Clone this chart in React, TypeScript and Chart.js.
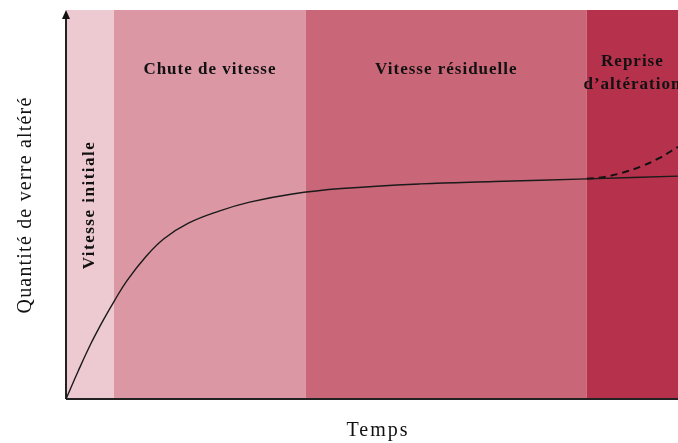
import React, { useEffect, useRef } from "react";
import { Chart, registerables } from "chart.js";

Chart.register(...registerables);

// Time (arbitrary units 0..100) and altered glass quantity (0..100)
const curveX = [0, 2, 4, 6, 8, 10, 13, 16, 20, 25, 30, 37, 45, 58, 70, 85.1, 100];
const curveY = [0, 7.2, 14, 20, 25.5, 30.5, 36.5, 41.2, 45.2, 48.3, 50.6, 52.7, 54.1, 55.3, 55.9, 56.6, 57.3];

const resumeX = [85.1, 88, 91, 94, 97, 100];
const resumeY = [56.6, 57.1, 58.2, 59.8, 62.0, 64.8];

const bandEdges = [0, 7.84, 39.2, 85.1, 100];
const bandColors = ["#EDCAD2", "#DB97A4", "#C96677", "#B6314C"];
const bandLabels = [["Vitesse initiale"], ["Chute de vitesse"], ["Vitesse résiduelle"], ["Reprise", "d\u2019altération"]];

const xTitle = "Temps";
const yTitle = "Quantité de verre altéré";

const SERIF = "'Liberation Serif', 'DejaVu Serif', serif";

const decorPlugin = {
  id: "decor",
  beforeDatasetsDraw(chart: any) {
    const { ctx, chartArea, scales } = chart;
    const xs = scales.x;
    ctx.save();
    for (let i = 0; i < bandColors.length; i++) {
      const x0 = xs.getPixelForValue(bandEdges[i]);
      const x1 = xs.getPixelForValue(bandEdges[i + 1]);
      ctx.fillStyle = bandColors[i];
      ctx.fillRect(x0, chartArea.top, x1 - x0, chartArea.bottom - chartArea.top);
    }
    // band labels
    ctx.fillStyle = "#111";
    ctx.textAlign = "center";
    ctx.textBaseline = "middle";
    for (let i = 0; i < bandLabels.length; i++) {
      const x0 = xs.getPixelForValue(bandEdges[i]);
      const x1 = xs.getPixelForValue(bandEdges[i + 1]);
      const cx = (x0 + x1) / 2;
      const lines = bandLabels[i];
      if (i === 0) {
        ctx.save();
        ctx.font = "bold 17px " + SERIF;
        ctx.letterSpacing = "1.5px";
        ctx.translate(cx, 205);
        ctx.rotate(-Math.PI / 2);
        ctx.fillText(lines[0], 0, 0);
        ctx.restore();
      } else if (lines.length === 1) {
        ctx.font = "bold 17px " + SERIF;
        ctx.letterSpacing = "1px";
        ctx.fillText(lines[0], cx, 70);
      } else {
        ctx.font = "bold 17px " + SERIF;
        ctx.letterSpacing = "1px";
        ctx.fillText(lines[0], cx, 62);
        ctx.fillText(lines[1], cx, 85);
      }
    }
    ctx.letterSpacing = "0px";
    // axes
    ctx.strokeStyle = "#222";
    ctx.lineWidth = 2;
    ctx.beginPath();
    ctx.moveTo(chartArea.left, chartArea.bottom);
    ctx.lineTo(chartArea.right, chartArea.bottom);
    ctx.moveTo(chartArea.left, chartArea.bottom);
    ctx.lineTo(chartArea.left, chartArea.top + 6);
    ctx.stroke();
    ctx.fillStyle = "#111";
    ctx.beginPath();
    ctx.moveTo(chartArea.left, chartArea.top);
    ctx.lineTo(chartArea.left - 4, chartArea.top + 9);
    ctx.lineTo(chartArea.left + 4, chartArea.top + 9);
    ctx.closePath();
    ctx.fill();
    // axis titles
    ctx.fillStyle = "#111";
    ctx.font = "20px " + SERIF;
    ctx.textAlign = "center";
    ctx.textBaseline = "middle";
    ctx.letterSpacing = "2px";
    ctx.fillText(xTitle, (chartArea.left + chartArea.right) / 2 + 6, 431);
    ctx.save();
    ctx.letterSpacing = "1.2px";
    ctx.translate(26, 205);
    ctx.rotate(-Math.PI / 2);
    ctx.fillText(yTitle, 0, 0);
    ctx.restore();
    ctx.restore();
  },
};

export default function App() {
  const ref = useRef<HTMLCanvasElement>(null);
  useEffect(() => {
    if (!ref.current) return;
    const chart = new Chart(ref.current, {
      type: "line",
      data: {
        datasets: [
          {
            label: "Altération",
            data: curveX.map((x, i) => ({ x, y: curveY[i] })),
            borderColor: "#1a1a1a",
            borderWidth: 1.4,
            pointRadius: 0,
            tension: 0.4,
            fill: false,
          },
          {
            label: "Reprise",
            data: resumeX.map((x, i) => ({ x, y: resumeY[i] })),
            borderColor: "#111",
            borderWidth: 2,
            borderDash: [7, 5],
            pointRadius: 0,
            tension: 0.4,
            fill: false,
          },
        ],
      },
      options: {
        responsive: false,
        animation: false,
        layout: { padding: { left: 66, top: 10, right: 0, bottom: 44 } },
        plugins: { legend: { display: false }, tooltip: { enabled: false } },
        scales: {
          x: { type: "linear", min: 0, max: 100, display: false },
          y: { type: "linear", min: 0, max: 100, display: false },
        },
      },
      plugins: [decorPlugin],
    });
    return () => chart.destroy();
  }, []);
  return (
    <div style={{ position: "absolute", left: 0, top: 0, width: 678, height: 443, background: "#fff" }}>
      <canvas ref={ref} width={678} height={443} style={{ display: "block" }} />
    </div>
  );
}
